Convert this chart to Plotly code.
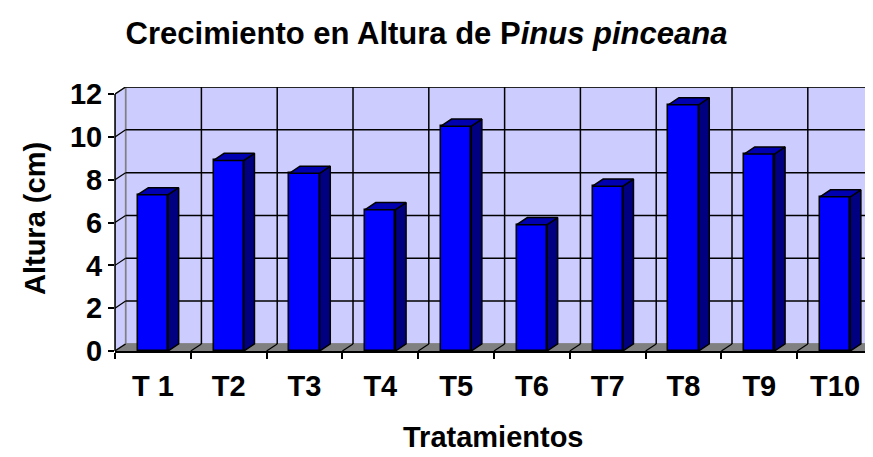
import plotly.graph_objects as go

# ---- data ----
categories = ["T 1", "T2", "T3", "T4", "T5", "T6", "T7", "T8", "T9", "T10"]
alturas = [7.3, 8.9, 8.3, 6.6, 10.5, 5.9, 7.7, 11.5, 9.2, 7.2]
y_ticks = [0, 2, 4, 6, 8, 10, 12]

# ---- style / geometry ----
DX = 0.14      # 3D depth offset, category units
DY = 0.33      # 3D depth offset, value units
BW = 0.4       # bar width
YMAX = 12
FONT = "Arial, Liberation Sans, sans-serif"
W, H = 865, 449          # page body has an 8px margin
ML, MT, MB = 107, 79, 106
PW = W - ML
PH = H - MT - MB
n = len(categories)
xpos = list(range(n))

fig = go.Figure()

# front faces
fig.add_trace(go.Bar(x=xpos, y=alturas, width=BW,
                     marker=dict(color="#0000FF", line=dict(color="black", width=1.5)),
                     hoverinfo="skip", showlegend=False))

# side faces and top faces computed from the data
sx, sy, tx, ty = [], [], [], []
for x, v in zip(xpos, alturas):
    r = x + BW / 2
    l = x - BW / 2
    sx += [r, r + DX, r + DX, r, r, None]
    sy += [0, DY, v + DY, v, 0, None]
    tx += [l, l + DX, r + DX, r, l, None]
    ty += [v, v + DY, v + DY, v, v, None]
fig.add_trace(go.Scatter(x=sx, y=sy, mode="lines", fill="toself", fillcolor="#000080",
                         line=dict(color="black", width=1.5), hoverinfo="skip", showlegend=False))
fig.add_trace(go.Scatter(x=tx, y=ty, mode="lines", fill="toself", fillcolor="#0000B0",
                         line=dict(color="black", width=1.5), hoverinfo="skip", showlegend=False))

# invisible trace to host the label axis
fig.add_trace(go.Scatter(x=xpos, y=alturas, xaxis="x2", mode="markers", marker=dict(opacity=0),
                         hoverinfo="skip", showlegend=False))

shapes = []
xl = -0.5
xr = n - 0.5
# back wall
shapes.append(dict(type="rect", xref="x", yref="y", x0=xl + DX, x1=xr + 1, y0=DY, y1=YMAX + DY,
                   fillcolor="#CCCCFF", line=dict(color="#808080", width=1.5), layer="below"))
# left side wall
shapes.append(dict(type="path", xref="x", yref="y",
                   path=f"M {xl},0 L {xl+DX},{DY} L {xl+DX},{YMAX+DY} L {xl},{YMAX} Z",
                   fillcolor="#CCCCFF", line=dict(color="#808080", width=1.5), layer="below"))
# floor
shapes.append(dict(type="path", xref="x", yref="y",
                   path=f"M {xl},0 L {xl+DX},{DY} L {xr+1},{DY} L {xr+1},0 Z",
                   fillcolor="#808080", line=dict(color="#808080", width=1), layer="below"))
# horizontal gridlines on back wall + diagonals on side wall
for k in y_ticks:
    if k > 0:
        shapes.append(dict(type="line", xref="x", yref="y", x0=xl + DX, x1=xr + 1, y0=k + DY, y1=k + DY,
                           line=dict(color="black", width=1.5), layer="below"))
    shapes.append(dict(type="line", xref="x", yref="y", x0=xl, x1=xl + DX, y0=k, y1=k + DY,
                       line=dict(color="black", width=1.2), layer="below"))
# vertical gridlines on back wall + diagonals on floor
for i in range(1, n + 1):
    b = i - 0.5
    if i < n:
        shapes.append(dict(type="line", xref="x", yref="y", x0=b + DX, x1=b + DX, y0=DY, y1=YMAX + DY,
                           line=dict(color="black", width=1.5), layer="below"))
    shapes.append(dict(type="line", xref="x", yref="y", x0=b, x1=b + DX, y0=0, y1=DY,
                       line=dict(color="black", width=1.2), layer="below"))
# front value axis line
shapes.append(dict(type="line", xref="paper", yref="y", x0=0, x1=0, y0=0, y1=YMAX,
                   line=dict(color="black", width=1.5)))

fig.update_layout(
    width=W, height=H,
    margin=dict(l=ML, r=0, t=MT, b=MB),
    paper_bgcolor="white", plot_bgcolor="white",
    font=dict(family=FONT, color="black", size=29),
    shapes=shapes,
    bargap=0,
    title=dict(text="<b>Crecimiento en Altura de P<i>inus pinceana</i></b>",
               x=418.5 / W, xanchor="center", y=1 - 25 / H, yanchor="middle",
               font=dict(family=FONT, size=31, color="black")),
    xaxis=dict(range=[xl, xr], tickvals=[i - 0.5 for i in range(n + 1)], showticklabels=False,
               ticks="outside", ticklen=6, tickwidth=1.5, tickcolor="black",
               showline=True, linecolor="black", linewidth=1.5, showgrid=False, zeroline=False),
    xaxis2=dict(range=[xl, xr], overlaying="x", anchor="y", side="bottom",
                tickvals=xpos, ticktext=categories, ticks="", showline=False, showgrid=False,
                zeroline=False, ticklabelstandoff=15,
                tickfont=dict(family=FONT, size=29, color="black", weight="bold")),
    yaxis=dict(range=[0, YMAX + DY], tickvals=y_ticks, ticks="outside", ticklen=6, tickwidth=1.5,
               tickcolor="black", showline=False, showgrid=False, zeroline=False,
               tickfont=dict(family=FONT, size=29, color="black", weight="bold")),
    annotations=[
        dict(text="<b>Altura (cm)</b>", xref="paper", yref="paper", x=(27 - ML) / PW, y=0.5,
             textangle=-90, xanchor="center", yanchor="middle", showarrow=False,
             font=dict(family=FONT, size=29, color="black")),
        dict(text="<b>Tratamientos</b>", xref="paper", yref="paper", x=(485 - ML) / PW,
             y=(MT + PH - 429) / PH, xanchor="center", yanchor="middle", showarrow=False,
             font=dict(family=FONT, size=29, color="black")),
    ],
)

fig.write_html("out.html")
